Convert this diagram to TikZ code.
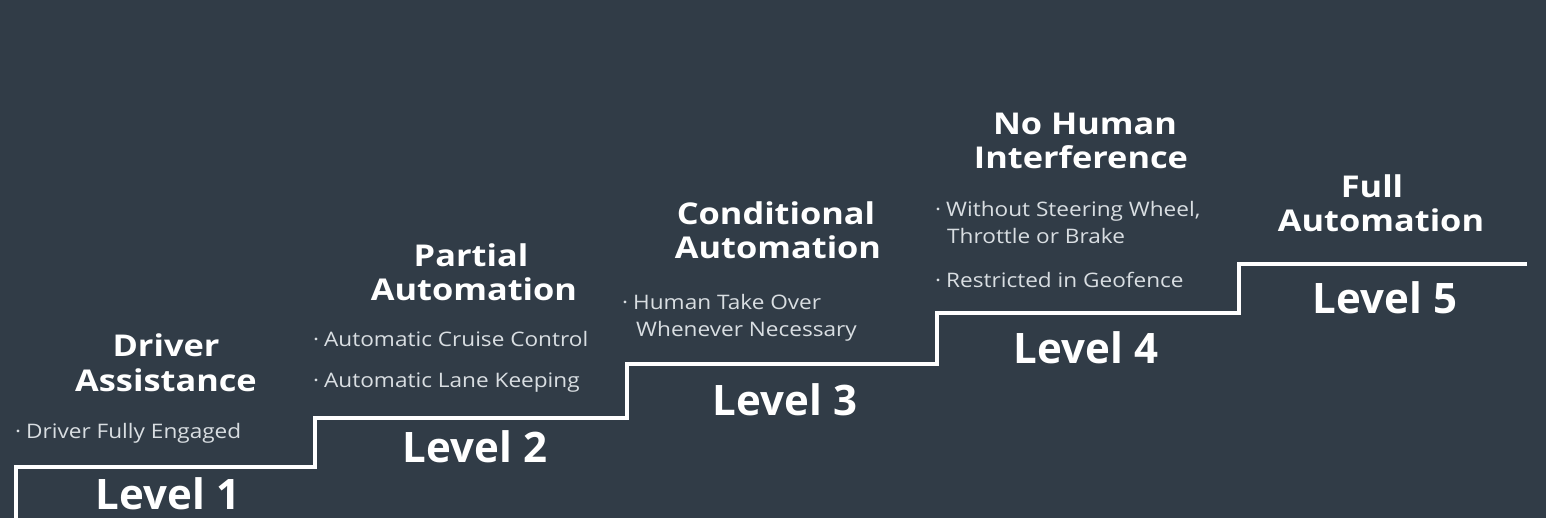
\documentclass[tikz,border=0pt]{standalone}
\usepackage{fontspec}
\setmainfont{Open Sans}
\newfontfamily\titlefont[FakeStretch=1.145]{Open Sans}
\newfontfamily\bulfont[FakeStretch=1.13]{Open Sans}
\definecolor{bgc}{HTML}{313C47}
\definecolor{bulc}{HTML}{D9DEE2}
\begin{document}
\begin{tikzpicture}[x=1pt,y=-1pt,
  title/.style={anchor=base,inner sep=0pt,text=white,font=\titlefont\fontsize{30}{34}\selectfont\bfseries},
  lvl/.style={anchor=base,inner sep=0pt,text=white,font=\fontsize{42}{46}\selectfont\bfseries},
  bul/.style={anchor=base west,inner sep=0pt,text=bulc,font=\bulfont\fontsize{20}{24}\selectfont},
  stair/.style={draw=white,line width=4pt}]
\fill[bgc] (0,0) rectangle (1546,518);
\useasboundingbox (0,0) rectangle (1546,518);
\newcommand{\bt}[1]{\makebox[11pt][l]{·}#1}
% stairs
\coordinate (s0) at (16,520);
\coordinate (s1) at (16,467);
\coordinate (s2) at (315,467);
\coordinate (s3) at (315,418);
\coordinate (s4) at (627,418);
\coordinate (s5) at (627,364);
\coordinate (s6) at (937,364);
\coordinate (s7) at (937,313);
\coordinate (s8) at (1239,313);
\coordinate (s9) at (1239,264);
\coordinate (s10) at (1527,264);
\draw[stair] (s0) -- (s1) -- (s2) -- (s3) -- (s4) -- (s5) -- (s6) -- (s7) -- (s8) -- (s9) -- (s10);
% level 1
\node[title] (t1a) at (166,356) {Driver};
\node[title] (t1b) at (166,391) {Assistance};
\node[bul] (b1a) at (15,438) {\bt{Driver Fully Engaged}};
\node[lvl] (l1) at (168,509) {Level 1};
% level 2
\node[title] (t2a) at (471,267) {Partial};
\node[title] (t2b) at (474,301) {Automation};
\node[bul] (b2a) at (313,346) {\bt{Automatic Cruise Control}};
\node[bul] (b2b) at (313,387) {\bt{Automatic Lane Keeping}};
\node[lvl] (l2) at (475,462) {Level 2};
% level 3
\node[title] (t3a) at (776,225) {Conditional};
\node[title] (t3b) at (778,259) {Automation};
\node[bul] (b3a) at (622,309) {\bt{Human Take Over}};
\node[bul] (b3b) at (636,336) {Whenever Necessary};
\node[lvl] (l3) at (785,415) {Level 3};
% level 4
\node[title] (t4a) at (1085,135) {No Human};
\node[title] (t4b) at (1081,169) {Interference};
\node[bul] (b4a) at (935,217) {\bt{Without Steering Wheel,}};
\node[bul] (b4b) at (947,244) {Throttle or Brake};
\node[bul] (b4c) at (935,288) {\bt{Restricted in Geofence}};
\node[lvl] (l4) at (1086,363) {Level 4};
% level 5
\node[title] (t5a) at (1372,198) {Full};
\node[title] (t5b) at (1381,232) {Automation};
\node[lvl] (l5) at (1385,313) {Level 5};
\end{tikzpicture}
\end{document}
